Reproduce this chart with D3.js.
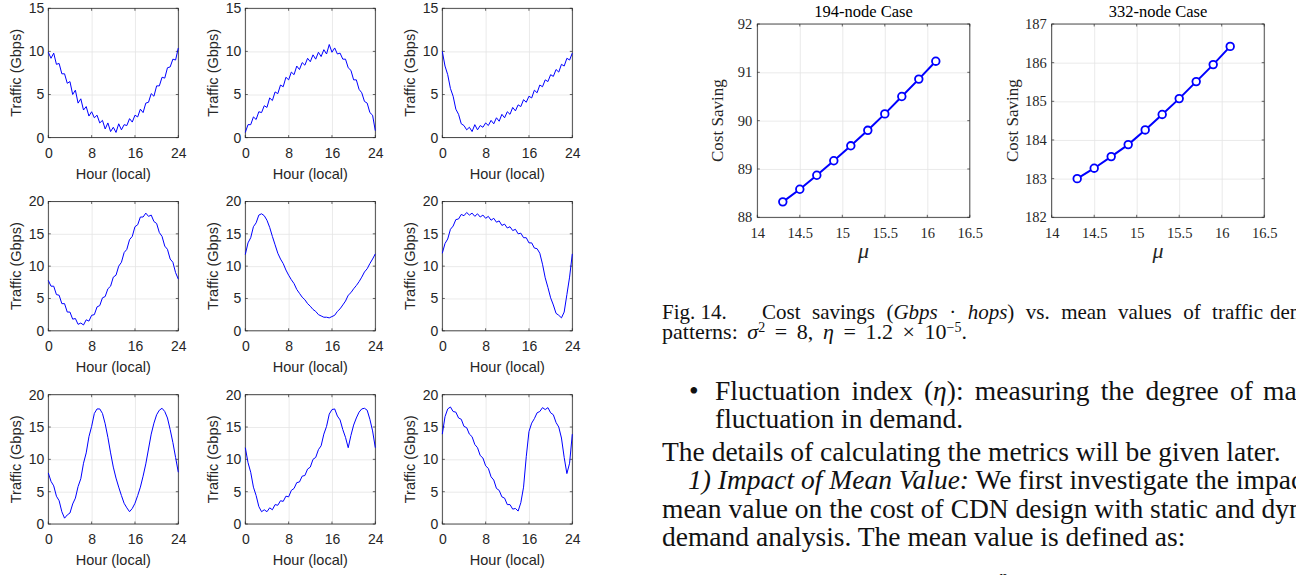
<!DOCTYPE html>
<html>
<head>
<meta charset="utf-8">
<script src="https://cdn.jsdelivr.net/npm/d3@7"></script>
<style>
  body { margin: 0; background: #fff; overflow: hidden; }
  svg { display: block; }
</style>
</head>
<body>
<div id="page"></div>
<script>

// traffic of the nine demand patterns, one value every half hour (0h .. 24h)
const hourTicks = [0, 8, 16, 24];

const traffic1 = [9.9, 9.2, 9.8, 8.5, 8.6, 7.4, 7.4, 6.3, 6.5, 5.0, 5.5, 4.0, 4.5, 3.2, 3.6, 2.5, 3.0, 2.3, 2.6, 1.7, 2.0, 1.0, 1.7, 0.7, 1.2, 0.6, 1.6, 0.9, 1.5, 1.4, 2.2, 1.8, 2.6, 2.4, 3.3, 2.9, 4.0, 4.1, 5.1, 4.8, 6.0, 6.0, 7.0, 6.9, 8.1, 8.2, 9.1, 9.0, 10.4];
const traffic2 = [0.6, 1.5, 1.5, 2.4, 2.1, 3.0, 2.9, 3.7, 3.5, 4.6, 4.3, 5.3, 5.1, 6.1, 5.9, 7.0, 6.7, 7.6, 7.3, 8.3, 7.9, 8.7, 8.4, 9.2, 8.8, 9.6, 9.1, 9.9, 9.4, 10.2, 9.7, 10.8, 9.9, 10.4, 9.7, 9.8, 9.1, 9.1, 8.1, 7.8, 6.7, 6.7, 5.6, 5.2, 4.2, 4.0, 2.9, 2.6, 0.8];
const traffic3 = [10.0, 8.3, 7.3, 5.7, 4.8, 3.3, 2.7, 1.6, 1.4, 0.9, 1.2, 0.7, 1.5, 0.9, 1.4, 1.2, 1.7, 1.4, 2.0, 1.6, 2.3, 1.9, 2.7, 2.3, 3.0, 2.7, 3.5, 3.1, 3.8, 3.6, 4.4, 4.1, 4.8, 4.6, 5.5, 5.2, 6.1, 5.9, 6.7, 6.5, 7.3, 7.1, 7.9, 7.6, 8.5, 8.3, 9.2, 9.0, 9.8];
const traffic4 = [7.8, 6.9, 6.9, 5.6, 5.5, 4.2, 4.2, 2.9, 2.9, 1.8, 1.9, 1.0, 1.2, 0.9, 1.7, 1.5, 2.4, 2.5, 3.7, 3.9, 5.1, 5.3, 6.5, 6.9, 8.3, 8.6, 10.0, 10.6, 12.1, 12.6, 14.1, 14.6, 16.1, 16.4, 17.6, 17.6, 18.2, 17.7, 17.9, 16.9, 16.6, 15.2, 14.6, 13.1, 12.6, 11.1, 10.6, 9.0, 8.0];
const traffic5 = [11.8, 13.6, 14.4, 16.1, 16.7, 17.9, 18.1, 17.8, 17.1, 16.0, 14.6, 13.3, 12.0, 11.1, 10.4, 9.4, 8.6, 7.9, 7.3, 6.4, 5.8, 5.2, 4.8, 4.2, 3.8, 3.3, 3.0, 2.5, 2.3, 2.1, 2.1, 2.0, 2.2, 2.4, 3.0, 3.4, 4.0, 4.6, 5.5, 5.9, 6.5, 7.0, 7.6, 8.3, 9.1, 9.6, 10.4, 11.1, 11.9];
const traffic6 = [12.0, 13.5, 14.2, 15.7, 16.2, 17.2, 17.3, 18.0, 17.8, 18.3, 17.9, 18.2, 17.7, 18.1, 17.6, 17.9, 17.4, 17.7, 17.1, 17.4, 16.8, 17.0, 16.3, 16.5, 15.9, 16.1, 15.5, 15.7, 15.0, 15.1, 14.4, 14.4, 13.6, 13.6, 12.8, 12.7, 12.0, 10.3, 8.2, 6.7, 5.1, 4.0, 2.7, 2.4, 2.0, 2.9, 5.6, 8.3, 11.9];
const traffic7 = [7.9, 6.6, 5.9, 4.3, 3.6, 1.9, 0.9, 1.4, 1.7, 3.1, 4.0, 5.8, 7.0, 9.4, 11.0, 13.5, 15.1, 17.1, 17.8, 17.8, 17.1, 15.5, 13.4, 11.0, 8.8, 7.1, 5.7, 4.4, 3.2, 2.5, 1.9, 2.4, 3.2, 4.4, 5.7, 7.4, 9.3, 11.6, 13.9, 15.6, 16.9, 17.6, 17.9, 17.4, 16.4, 14.6, 12.6, 10.3, 8.0];
const traffic8 = [11.8, 9.5, 8.0, 5.7, 4.4, 2.7, 1.9, 2.2, 1.9, 2.5, 2.2, 3.0, 2.9, 3.6, 3.5, 4.3, 4.2, 5.2, 5.5, 6.4, 6.5, 7.4, 7.5, 8.5, 8.8, 10.0, 10.3, 11.5, 12.1, 13.9, 15.1, 17.0, 17.7, 17.8, 16.7, 16.1, 14.6, 13.4, 11.8, 13.7, 15.3, 16.4, 17.3, 17.8, 17.9, 17.6, 16.2, 14.4, 11.8];
const traffic9 = [13.9, 16.6, 17.8, 18.1, 17.4, 17.3, 16.4, 16.2, 15.1, 14.9, 13.9, 13.5, 12.3, 11.8, 10.6, 10.2, 9.0, 8.6, 7.3, 6.8, 5.5, 5.2, 4.2, 4.0, 3.0, 3.0, 2.3, 2.4, 2.0, 3.3, 5.7, 10.4, 14.3, 15.6, 16.3, 17.2, 17.4, 18.0, 17.7, 18.0, 17.2, 16.9, 15.7, 15.0, 13.3, 10.3, 7.8, 9.4, 13.9];

const trafficMaxTop = 15;      // first row of panels
const trafficMaxRest = 20;     // second and third rows

// Fig. 14 : cost saving vs mean value
const muValues = [14.3, 14.5, 14.7, 14.9, 15.1, 15.3, 15.5, 15.7, 15.9, 16.1];
const saving194 = [88.32, 88.58, 88.87, 89.17, 89.48, 89.80, 90.14, 90.50, 90.86, 91.23];
const saving332 = [183.00, 183.27, 183.57, 183.88, 184.26, 184.66, 185.07, 185.51, 185.95, 186.42];
const muTicks = [14, 14.5, 15, 15.5, 16, 16.5];

const gridColor = "#e4e4e4";
const boxColor = "#262626";
const blue = "#0000ff";

let svg = d3.select("#page")
	.append("svg")
	.attr("width", 1296)
	.attr("height", 575);


// draws a MATLAB style axes box with grid, inner ticks and tick labels
function axesBox(g, x, y, w, h, xTicks, yTicks, font, size, xFmt, pad) {

	let xa = g.append("g")
		.attr("transform", "translate(0," + h + ")")
		.call(d3.axisBottom(x).tickValues(xTicks).tickSize(-h).tickPadding(pad.x).tickFormat(xFmt));
	let ya = g.append("g")
		.call(d3.axisLeft(y).tickValues(yTicks).tickSize(-w).tickPadding(pad.y).tickFormat(d3.format("d")));

	[xa, ya].forEach(function (a) {
		a.select(".domain").remove();
		a.selectAll("line").attr("stroke", gridColor).attr("stroke-width", 0.8);
		a.attr("font-family", font).attr("font-size", size);
		a.selectAll("text").attr("fill", boxColor);
	});

	// small inward ticks on all four sides
	let t = 2.5;
	let ticks = g.append("g").attr("stroke", boxColor).attr("stroke-width", 0.7);
	xTicks.forEach(function (v) {
		ticks.append("line").attr("x1", x(v)).attr("x2", x(v)).attr("y1", h).attr("y2", h - t);
		ticks.append("line").attr("x1", x(v)).attr("x2", x(v)).attr("y1", 0).attr("y2", t);
	});
	yTicks.forEach(function (v) {
		ticks.append("line").attr("x1", 0).attr("x2", t).attr("y1", y(v)).attr("y2", y(v));
		ticks.append("line").attr("x1", w).attr("x2", w - t).attr("y1", y(v)).attr("y2", y(v));
	});

	g.append("rect")
		.attr("width", w)
		.attr("height", h)
		.attr("fill", "none")
		.attr("stroke", boxColor)
		.attr("stroke-width", 0.8);
}


function trafficPanel(values, col, row, yMax) {

	let left = 48.3 + 197 * col,
		top = 8.3 + 193.2 * row,
		w = 130,
		h = 129.3;

	let g = svg.append("g").attr("transform", "translate(" + left + "," + top + ")");

	let x = d3.scaleLinear().domain([0, 24]).range([0, w]);
	let y = d3.scaleLinear().domain([0, yMax]).range([h, 0]);

	let yTicks = d3.range(0, yMax + 1, 5);
	axesBox(g, x, y, w, h, hourTicks, yTicks, "Liberation Sans, Arial, sans-serif", 14, d3.format("d"), { x: 10, y: 4 });

	let hours = values.map(function (d, i) { return i * 24 / (values.length - 1); });

	let line = d3.line()
		.x(function (d, i) { return x(hours[i]); })
		.y(function (d) { return y(d); });

	g.append("path")
		.datum(values)
		.attr("d", line)
		.attr("fill", "none")
		.attr("stroke", blue)
		.attr("stroke-width", 1)
		.attr("stroke-linejoin", "round");

	g.append("text")
		.attr("x", w / 2)
		.attr("y", h + 41)
		.attr("text-anchor", "middle")
		.attr("font-family", "Liberation Sans, Arial, sans-serif")
		.attr("font-size", 14.5)
		.attr("fill", boxColor)
		.text("Hour (local)");

	g.append("text")
		.attr("transform", "rotate(-90)")
		.attr("x", -h / 2)
		.attr("y", -27)
		.attr("text-anchor", "middle")
		.attr("font-family", "Liberation Sans, Arial, sans-serif")
		.attr("font-size", 14.5)
		.attr("fill", boxColor)
		.text("Traffic (Gbps)");
}


function savingPanel(values, left, yDomain, title) {

	let top = 24,
		w = 212.5,
		h = 193.3;

	let g = svg.append("g").attr("transform", "translate(" + left + "," + top + ")");

	let x = d3.scaleLinear().domain([14, 16.5]).range([0, w]);
	let y = d3.scaleLinear().domain(yDomain).range([h, 0]);

	let yTicks = d3.range(yDomain[0], yDomain[1] + 1, 1);
	axesBox(g, x, y, w, h, muTicks, yTicks, "Liberation Serif, Times New Roman, serif", 14.5, function (d) { return String(d); }, { x: 10, y: 5 });

	let line = d3.line()
		.x(function (d, i) { return x(muValues[i]); })
		.y(function (d) { return y(d); });

	g.append("path")
		.datum(values)
		.attr("d", line)
		.attr("fill", "none")
		.attr("stroke", blue)
		.attr("stroke-width", 2);

	g.selectAll(".mark")
		.data(values)
		.enter()
		.append("circle")
		.attr("cx", function (d, i) { return x(muValues[i]); })
		.attr("cy", function (d) { return y(d); })
		.attr("r", 3.8)
		.attr("fill", "#fff")
		.attr("stroke", blue)
		.attr("stroke-width", 1.8);

	g.append("text")
		.attr("x", w / 2)
		.attr("y", -7)
		.attr("text-anchor", "middle")
		.attr("font-family", "Liberation Serif, Times New Roman, serif")
		.attr("font-size", 16.5)
		.attr("fill", "#000")
		.text(title);

	g.append("text")
		.attr("transform", "rotate(-90)")
		.attr("x", -h / 2)
		.attr("y", -34)
		.attr("text-anchor", "middle")
		.attr("font-family", "Liberation Serif, Times New Roman, serif")
		.attr("font-size", 17)
		.attr("fill", boxColor)
		.text("Cost Saving");

	g.append("text")
		.attr("x", w / 2)
		.attr("y", h + 41)
		.attr("text-anchor", "middle")
		.attr("font-family", "Liberation Serif, Times New Roman, serif")
		.attr("font-style", "italic")
		.attr("font-size", 22)
		.attr("fill", boxColor)
		.text("\u03bc");
}


let allTraffic = [traffic1, traffic2, traffic3, traffic4, traffic5, traffic6, traffic7, traffic8, traffic9];
allTraffic.forEach(function (values, i) {
	let row = Math.floor(i / 3);
	trafficPanel(values, i % 3, row, row == 0 ? trafficMaxTop : trafficMaxRest);
});

savingPanel(saving194, 757.3, [88, 92], "194-node Case");
savingPanel(saving332, 1051.7, [182, 187], "332-node Case");


// page text around the figure
let serif = "Liberation Serif, Times New Roman, serif";

function textLine(x, y, size, parts) {
	let t = svg.append("text")
		.attr("x", x)
		.attr("y", y)
		.attr("font-family", serif)
		.attr("font-size", size)
		.attr("fill", "#111");
	parts.forEach(function (p) {
		let s = t.append("tspan").text(p.t);
		if (p.i) s.attr("font-style", "italic");
		if (p.dy) s.attr("dy", p.dy);
		if (p.s) s.attr("font-size", p.s);
	});
	return t;
}

// stretch the spaces of a line so it spans the given width (justified text)
function justify(t, width) {
	let n = (t.text().match(/ /g) || []).length;
	let len = t.node().getComputedTextLength();
	if (n > 0) t.attr("word-spacing", (width - len) / n);
}

textLine(662, 319, 21, [{ t: "Fig. 14." }]);
justify(textLine(762, 319, 21, [
	{ t: "Cost savings (" },
	{ t: "Gbps", i: true },
	{ t: " \u00b7 " },
	{ t: "hops", i: true },
	{ t: ") vs. mean values of traffic" }
]), 501);
textLine(1270, 319, 21, [{ t: "demand" }]);

justify(textLine(662, 339, 22, [
	{ t: "patterns: " },
	{ t: "\u03c3", i: true },
	{ t: "2", dy: -7, s: 14 },
	{ t: " = 8, ", dy: 7 },
	{ t: "\u03b7", i: true },
	{ t: " = 1.2 \u00d7 10" },
	{ t: "\u22125", dy: -7, s: 14 },
	{ t: ".", dy: 7 }
]), 305);

textLine(689, 400, 27.5, [{ t: "\u2022" }]);
justify(textLine(715, 400, 27.5, [
	{ t: "Fluctuation index (" },
	{ t: "\u03b7", i: true },
	{ t: "): measuring the degree of" }
]), 538);
textLine(1263, 400, 27.5, [{ t: "maximum" }]);
textLine(715, 428, 27.5, [{ t: "fluctuation in demand." }]);
textLine(662, 460.5, 27.5, [{ t: "The details of calculating the metrics will be given later." }]);
textLine(688, 489, 27.5, [
	{ t: "1) Impact of Mean Value:", i: true },
	{ t: " We first investigate the impact of the" }
]);
textLine(662, 517.5, 27.5, [{ t: "mean value on the cost of CDN design with static and dynamic" }]);
textLine(662, 546, 27.5, [{ t: "demand analysis. The mean value is defined as:" }]);
textLine(999, 582, 17, [{ t: "n", i: true }]);

</script>
</body>
</html>
